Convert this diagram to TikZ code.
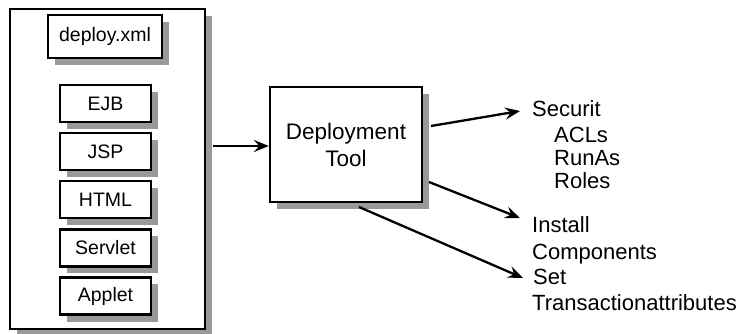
\documentclass[tikz,border=0pt]{standalone}
\usepackage{fontspec}
\setmainfont{Liberation Sans}
\usetikzlibrary{shadows,arrows.meta}
\begin{document}
\begin{tikzpicture}[x=1pt,y=-1pt,
  box/.style={draw=black,line width=2.3pt,fill=white,inner sep=0pt,
    drop shadow={shadow xshift=7pt,shadow yshift=-7pt,fill=black!40,opacity=1}},
  part/.style={box,minimum width=91pt,minimum height=37pt,font=\fontsize{19.5}{22}\selectfont},
  conn/.style={line width=2.3pt,-{Stealth[length=15pt,width=12pt,inset=5.5pt]}},
  lbl/.style={anchor=base west,inner sep=0pt,font=\fontsize{22}{24}\selectfont}]
\useasboundingbox (0,0) rectangle (740,334);

% archive holding the deployable parts
\node[box,minimum width=195pt,minimum height=320pt] (ear) at (107.5,169) {};
\node[box,minimum width=114pt,minimum height=43pt,font=\fontsize{19.5}{22}\selectfont] (dd) at (105,36.5) {deploy.xml};
\node[part] (ejb) at (105.5,103.5) {EJB};
\node[part] (jsp) at (105.5,151.5) {JSP};
\node[part] (html) at (105.5,199.5) {HTML};
\node[part] (servlet) at (105.5,248) {Servlet};
\node[part] (applet) at (105.5,296) {Applet};

% the tool
\node[box,minimum width=152pt,minimum height=115pt,align=center,
  font=\fontsize{22.5}{27}\selectfont] (tool) at (346,144.5) {Deployment\\Tool};

% outputs
\node[lbl] (sec) at (532,117) {Securit};
\node[lbl] (acl) at (554,143) {ACLs};
\node[lbl] (runas) at (554,166) {RunAs};
\node[lbl] (roles) at (554,189) {Roles};
\node[lbl] (inst) at (532,233) {Install};
\node[lbl] (comp) at (532,260) {Components};
\node[lbl] (set) at (533,284) {Set};
\node[lbl] (trans) at (532,310) {Transactionattributes};

% connector ends
\coordinate (s0) at (213,146);
\coordinate (s1) at (431,126);
\coordinate (e1) at (520,111);
\coordinate (s2) at (429,182);
\coordinate (e2) at (520,218);
\coordinate (s3) at (359,207);
\coordinate (e3) at (523,278);

\draw[conn] (s0) -- (tool.west |- s0);
\draw[conn] (s1) -- (e1);
\draw[conn] (s2) -- (e2);
\draw[conn] (s3) -- (e3);
\end{tikzpicture}
\end{document}
